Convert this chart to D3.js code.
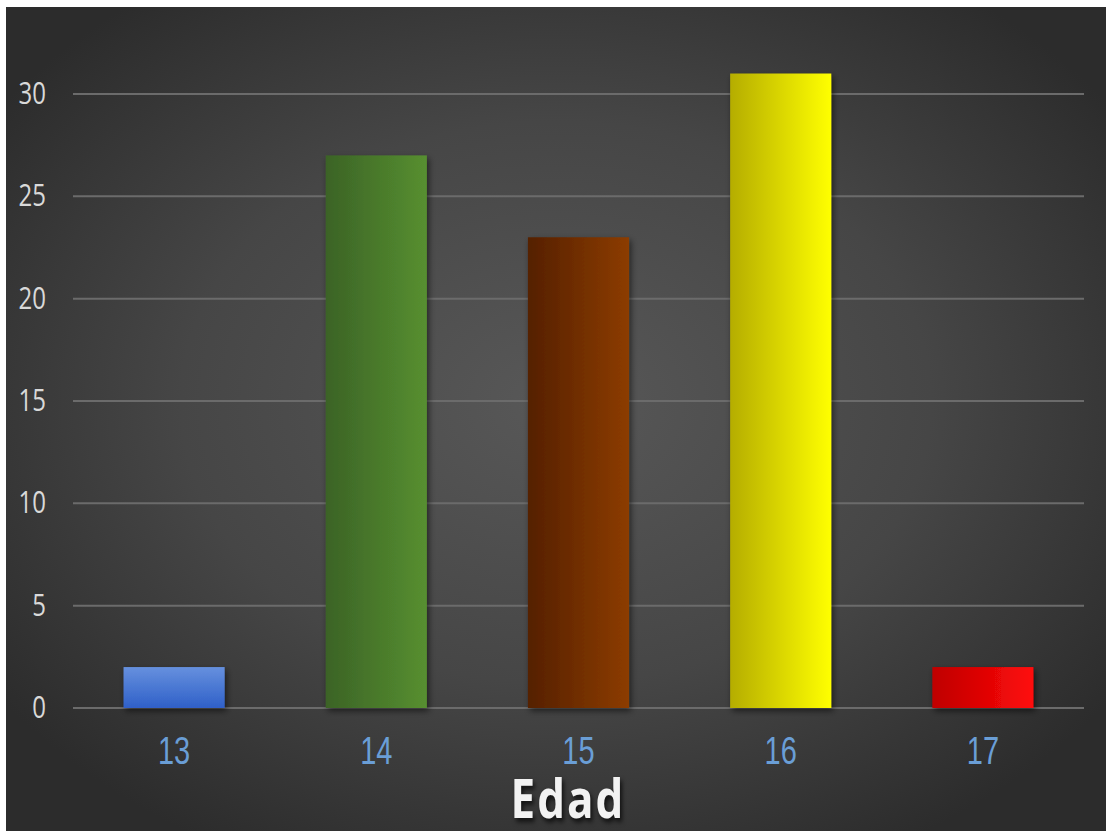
<!DOCTYPE html>
<html lang="es">
<head>
<meta charset="UTF-8">
<title>Edad</title>
<script src="https://cdnjs.cloudflare.com/ajax/libs/d3/7.8.5/d3.min.js"></script>
<style>
  html, body { margin: 0; padding: 0; background: #fff; }
  svg { display: block; }
</style>
</head>
<body>
<div id="chart"></div>
<script>
// data
const ages = ["13", "14", "15", "16", "17"];
const counts = [2, 27, 23, 31, 2];
const yTicks = [0, 5, 10, 15, 20, 25, 30];
const barColors = [
  ["#6690de", "#2f60c8", "v"],   // blue, lighter on top
  ["#3b6326", "#578f30", "h"],   // green
  ["#552000", "#8c3c04", "h"],   // brown
  ["#b5ad00", "#ffff00", "h"],   // yellow
  ["#bf0000", "#ff0a0a", "h"]    // red
];

const W = 1107, H = 832;
const margin = { top: 94, right: 23, bottom: 124, left: 73 };
const x0 = 6, y0 = 7; // white frame around the dark panel

const svg = d3.select("#chart").append("svg")
  .attr("width", W).attr("height", H);

const defs = svg.append("defs");

// background radial gradient
const bg = defs.append("radialGradient")
  .attr("id", "bg").attr("cx", "50%").attr("cy", "48%").attr("r", "62%");
bg.append("stop").attr("offset", "0%").attr("stop-color", "#585858");
bg.append("stop").attr("offset", "55%").attr("stop-color", "#464646");
bg.append("stop").attr("offset", "100%").attr("stop-color", "#2c2c2c");

svg.append("rect")
  .attr("x", x0).attr("y", y0)
  .attr("width", W - x0 - 1).attr("height", H - y0 - 1)
  .attr("fill", "url(#bg)");

// drop shadow for bars
const f = defs.append("filter").attr("id", "shadow")
  .attr("x", "-20%").attr("y", "-20%").attr("width", "140%").attr("height", "140%");
f.append("feDropShadow")
  .attr("dx", 2).attr("dy", 3).attr("stdDeviation", 3)
  .attr("flood-color", "#000").attr("flood-opacity", 0.55);

barColors.forEach((c, i) => {
  const g = defs.append("linearGradient").attr("id", "bar" + i)
    .attr("x1", "0%").attr("y1", "0%")
    .attr("x2", c[2] === "h" ? "100%" : "0%")
    .attr("y2", c[2] === "h" ? "0%" : "100%");
  g.append("stop").attr("offset", "0%").attr("stop-color", c[0]);
  g.append("stop").attr("offset", "100%").attr("stop-color", c[1]);
});

const plotW = W - margin.left - margin.right;
const plotH = H - margin.top - margin.bottom;

const x = d3.scaleBand().domain(ages)
  .range([margin.left, margin.left + plotW])
  .paddingInner(0.5).paddingOuter(0.25);
const y = d3.scaleLinear().domain([0, 30]).range([margin.top + plotH, margin.top]);

// gridlines
svg.append("g")
  .selectAll("line")
  .data(yTicks)
  .join("line")
  .attr("x1", margin.left).attr("x2", margin.left + plotW)
  .attr("y1", d => y(d)).attr("y2", d => y(d))
  .attr("stroke", "#6b6b6b").attr("stroke-width", 2);

// y labels (the source picture is stretched vertically)
svg.append("g")
  .selectAll("text")
  .data(yTicks)
  .join("text")
  .attr("transform", d => `translate(46,${y(d) + 10}) scale(1,1.3)`)
  .attr("text-anchor", "end")
  .attr("font-family", "'Open Sans', sans-serif")
  .attr("font-size", 24)
  .attr("fill", "#d9d9d9")
  .text(d => d);

// bars
svg.append("g")
  .selectAll("rect")
  .data(counts)
  .join("rect")
  .attr("x", (d, i) => x(ages[i]))
  .attr("y", d => y(d))
  .attr("width", x.bandwidth())
  .attr("height", d => y(0) - y(d))
  .attr("fill", (d, i) => `url(#bar${i})`)
  .attr("filter", "url(#shadow)");

// x labels
svg.append("g")
  .selectAll("text")
  .data(ages)
  .join("text")
  .attr("transform", d => `translate(${x(d) + x.bandwidth() / 2},764) scale(1,1.35)`)
  .attr("text-anchor", "middle")
  .attr("font-family", "'Liberation Sans', Arial, sans-serif")
  .attr("font-size", 29)
  .attr("fill", "#6a9ed6")
  .text(d => d);

// axis title
svg.append("text")
  .attr("transform", "translate(568,818) scale(1,1.22)")
  .attr("text-anchor", "middle")
  .attr("font-family", "'Open Sans', sans-serif")
  .attr("font-weight", "bold")
  .attr("font-size", 44)
  .attr("letter-spacing", 2)
  .attr("fill", "#f2f2f2")
  .style("filter", "drop-shadow(2px 3px 2px rgba(0,0,0,0.7))")
  .text("Edad");
</script>
</body>
</html>
